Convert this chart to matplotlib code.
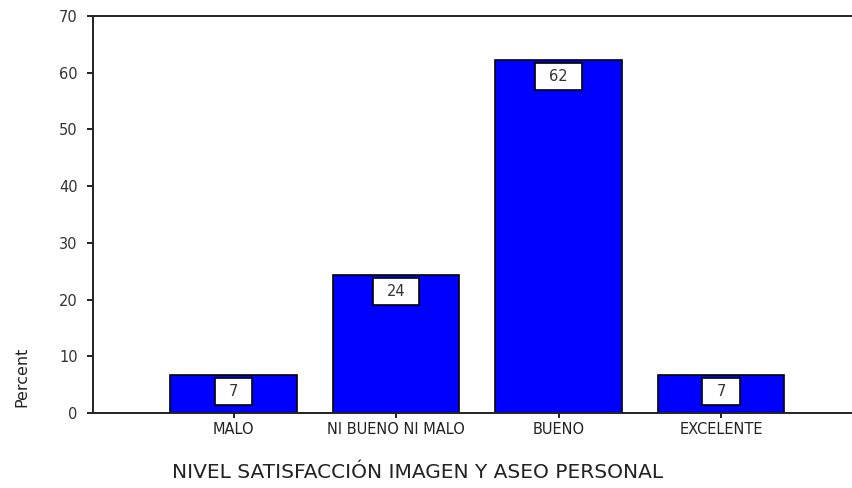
"""
Bar chart of the satisfaction level with personal image and grooming,
in percent, with the rounded value boxed at the top of each bar.
"""
import numpy as np
import matplotlib
matplotlib.use("Agg")
import matplotlib.pyplot as plt
from matplotlib.path import Path

categories = ["MALO", "NI BUENO NI MALO", "BUENO", "EXCELENTE"]
percent = [6.7, 24.4, 62.2, 6.7]
y_ticks = [0, 10, 20, 30, 40, 50, 60, 70]

BLUE = "#0000ff"
INK = "#222222"

plt.rcParams["font.family"] = ["DejaVu Sans"]


def label_box(x0, y0, width, height, mutation_size):
    """Square box, wider than tall, drawn round the value labels."""
    padx = 0.95 * mutation_size
    pady = 0.42 * mutation_size
    x0, x1 = x0 - padx, x0 + width + padx
    y0, y1 = y0 - pady, y0 + height + pady
    return Path([(x0, y0), (x1, y0), (x1, y1), (x0, y1), (x0, y0)],
                closed=True)


fig = plt.figure(figsize=(8.52, 4.88), dpi=100)
ax = fig.add_axes([93 / 852, 1 - 413 / 488, 1 - 93 / 852, (413 - 16) / 488])

xs = np.arange(len(categories))
ax.bar(xs, percent, width=0.78, color=BLUE, edgecolor="black",
       linewidth=1.2, zorder=2)

for x, v in zip(xs, percent):
    ax.annotate("%d" % round(v), xy=(x, v), xytext=(0, -6.5),
                textcoords="offset points", ha="center", va="top",
                fontsize=10.5, color="#333333", zorder=3,
                bbox=dict(boxstyle=label_box, fc="white", ec="black",
                          lw=1.2))

ax.set_xlim(-0.865, 3.806)
ax.set_ylim(0, 70)
ax.set_yticks(y_ticks)
ax.set_xticks(xs)
ax.set_xticklabels(categories)

for side in ("left", "bottom", "top"):
    ax.spines[side].set_color(INK)
    ax.spines[side].set_linewidth(1.4)
ax.spines["right"].set_visible(False)

ax.tick_params(axis="y", direction="out", length=4, width=1.4, color=INK,
               pad=7, labelsize=10.5, labelcolor="#333333")
ax.tick_params(axis="x", direction="out", length=3.5, width=1.4, color=INK,
               pad=3, labelsize=10.5, labelcolor="#222222")

fig.text(22 / 852, 1 - 377 / 488, "Percent", rotation=90, ha="center",
         va="center", fontsize=11.5, color="#222222")
fig.text(418 / 852, 1 - 473 / 488,
         "NIVEL SATISFACCIÓN IMAGEN Y ASEO PERSONAL",
         ha="center", va="center", fontsize=14.5, color="#222222")

fig.savefig("out.png", dpi=100)
